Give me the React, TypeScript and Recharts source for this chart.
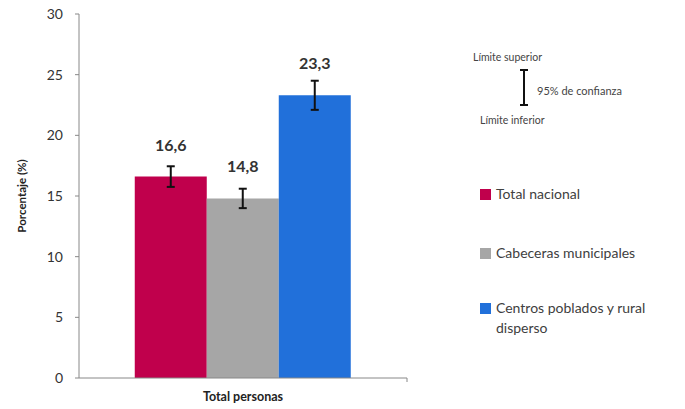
import { BarChart, Bar, XAxis, YAxis, ErrorBar, LabelList } from 'recharts'
import * as R from 'recharts'

const categories = ['Total personas']
const seriesKeys = ['nacional', 'cabeceras', 'centros']
const seriesNames = ['Total nacional', 'Cabeceras municipales', 'Centros poblados y rural disperso']
const seriesColors = ['#c0004c', '#a6a6a6', '#2170da']
const values = [16.6, 14.8, 23.3]
const errors = [0.85, 0.8, 1.2]
const yTicks = [0, 5, 10, 15, 20, 25, 30]

const FONT = 'Lato, "Open Sans", sans-serif'

const row: Record<string, string | number> = { name: categories[0] }
seriesKeys.forEach((k, i) => {
  row[k] = values[i]
  row[k + 'Err'] = errors[i]
})
const data = [row]

// little tick at the right end of the x axis (Excel style)
function EdgeTick() {
  const usePlotArea = (R as any).usePlotArea
  const area = usePlotArea ? usePlotArea() : null
  if (!area) return null
  const x = area.x + area.width
  const y = area.y + area.height
  return <line x1={x} y1={y} x2={x} y2={y + 4} stroke="#888" />
}

export default function App() {
  return (
    <div style={{ position: 'absolute', left: 0, top: 0, width: 685, height: 409, background: '#fff', fontFamily: FONT }}>
      <BarChart
        width={685}
        height={409}
        data={data}
        margin={{ top: 14, right: 278, left: 0, bottom: 0 }}
        barCategoryGap="17%"
        barGap={0}
      >
        <XAxis
          dataKey="name"
          axisLine={{ stroke: '#888' }}
          tickLine={false}
          tickMargin={8}
          height={31}
          tick={{ fontSize: 12.5, fontWeight: 700, fill: '#222', fontFamily: FONT }}
        />
        <YAxis
          domain={[0, 30]}
          ticks={yTicks}
          width={79}
          axisLine={{ stroke: '#888' }}
          tickLine={{ stroke: '#888' }}
          tickSize={4}
          tickMargin={12}
          tick={{ fontSize: 14, fill: '#333', fontFamily: FONT }}
          label={{
            value: 'Porcentaje (%)',
            angle: -90,
            position: 'center',
            dx: -18,
            style: { fontSize: 11.5, fontWeight: 700, fill: '#222', fontFamily: FONT },
          }}
        />
        {seriesKeys.map((k, i) => (
          <Bar key={k} dataKey={k} fill={seriesColors[i]} isAnimationActive={false}>
            <ErrorBar dataKey={k + 'Err'} width={4} stroke="#111" strokeWidth={2} />
            <LabelList
              dataKey={k}
              position="top"
              offset={26}
              formatter={(v: any) => String(v).replace('.', ',')}
              style={{ fontSize: 16, fontWeight: 700, fill: '#333', fontFamily: FONT }}
            />
          </Bar>
        ))}
        <EdgeTick />
      </BarChart>

      {/* confidence interval key */}
      <div style={{ position: 'absolute', left: 473, top: 51, fontSize: 10.5, color: '#444' }}>Límite superior</div>
      <svg style={{ position: 'absolute', left: 518, top: 69 }} width={12} height={38}>
        <line x1={6} y1={1} x2={6} y2={36} stroke="#111" strokeWidth={2} />
        <line x1={2} y1={1} x2={10} y2={1} stroke="#111" strokeWidth={2} />
        <line x1={2} y1={36} x2={10} y2={36} stroke="#111" strokeWidth={2} />
      </svg>
      <div style={{ position: 'absolute', left: 537, top: 84, fontSize: 11, color: '#444' }}>95% de confianza</div>
      <div style={{ position: 'absolute', left: 480, top: 114, fontSize: 10.5, color: '#444' }}>Límite inferior</div>

      {/* legend */}
      {seriesNames.map((n, i) => (
        <div
          key={n}
          style={{
            position: 'absolute',
            left: 480,
            top: [184, 243, 298][i],
            width: 205,
            display: 'flex',
            alignItems: 'flex-start',
            fontSize: 14,
            lineHeight: '20px',
            color: '#404040',
          }}
        >
          <span style={{ width: 11, height: 11, background: seriesColors[i], marginTop: 5, marginRight: 5, flex: 'none' }} />
          <span style={{ width: 180 }}>{n}</span>
        </div>
      ))}
    </div>
  )
}
